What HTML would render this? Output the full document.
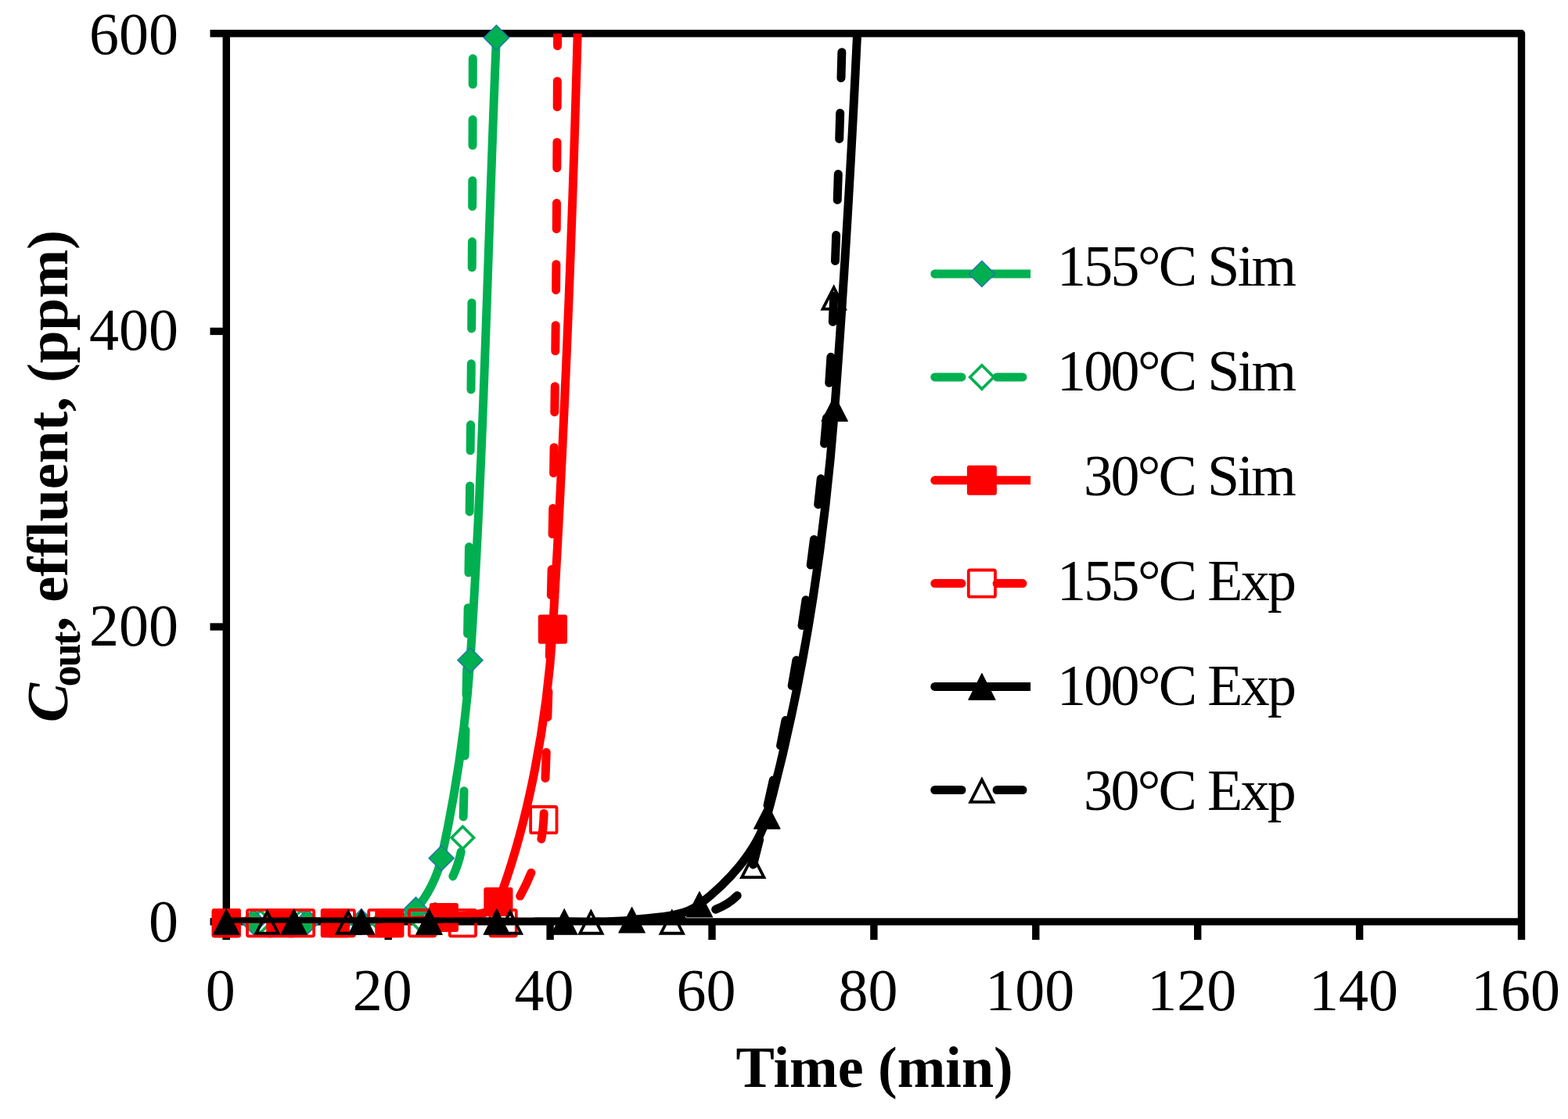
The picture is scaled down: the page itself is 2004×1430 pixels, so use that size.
<!DOCTYPE html><html><head><meta charset="utf-8"><title>Breakthrough curves</title><style>html,body{margin:0;padding:0;background:#fff;overflow:hidden}svg{display:block}text{font-family:"Liberation Serif","Times New Roman",serif;}</style></head><body>
<svg width="2004" height="1430" viewBox="0 0 2004 1430">
<rect width="2004" height="1430" fill="#fff"/>
<defs><clipPath id="pa"><rect x="289.30" y="42.80" width="1655.20" height="1136.80"/></clipPath></defs>
<g stroke="#000" stroke-width="9.4" fill="none" stroke-linejoin="round">
<path d="M268.50,42.80 H1944.50 V1177.90"/>
<path d="M289.30,42.80 V1201.00"/>
<path d="M268.50,1177.90 H1944.50"/>
<path d="M268.50,801.00 H289.30"/>
<path d="M268.50,423.40 H289.30"/>
<path d="M289.30,1177.90 V1201.00"/>
<path d="M496.20,1177.90 V1201.00"/>
<path d="M703.10,1177.90 V1201.00"/>
<path d="M910.00,1177.90 V1201.00"/>
<path d="M1116.90,1177.90 V1201.00"/>
<path d="M1323.80,1177.90 V1201.00"/>
<path d="M1530.70,1177.90 V1201.00"/>
<path d="M1737.60,1177.90 V1201.00"/>
<path d="M1944.50,1177.90 V1201.00"/>
</g>
<g font-size="76" fill="#000">
<text x="228" y="1202.9" text-anchor="end">0</text>
<text x="228" y="825.2" text-anchor="end">200</text>
<text x="228" y="446.6" text-anchor="end">400</text>
<text x="228" y="68.8" text-anchor="end">600</text>
<text x="281.8" y="1291" text-anchor="middle">0</text>
<text x="488.7" y="1291" text-anchor="middle">20</text>
<text x="695.6" y="1291" text-anchor="middle">40</text>
<text x="902.5" y="1291" text-anchor="middle">60</text>
<text x="1109.4" y="1291" text-anchor="middle">80</text>
<text x="1316.3" y="1291" text-anchor="middle">100</text>
<text x="1523.2" y="1291" text-anchor="middle">120</text>
<text x="1730.1" y="1291" text-anchor="middle">140</text>
<text x="1937.0" y="1291" text-anchor="middle">160</text>
</g>
<text x="1117.6" y="1388.7" font-size="74" font-weight="bold" text-anchor="middle">Time (min)</text>
<text transform="translate(86,923) rotate(-90)" font-size="75" font-weight="bold"><tspan font-style="italic">C</tspan><tspan font-size="54" dx="-4.4" dy="15.5" style="letter-spacing:-2.2px">out</tspan><tspan dy="-15.5" dx="2.2" style="letter-spacing:-0.25px">, effluent, (ppm)</tspan></text>
<path d="M289.30,1177.90 C300.79,1177.90 312.29,1177.90 323.78,1177.90 C335.28,1177.90 346.77,1177.90 358.27,1177.90 C369.76,1177.90 381.26,1177.90 392.75,1177.90 C404.24,1177.90 415.74,1177.90 427.23,1177.90 C438.73,1177.90 450.22,1177.90 461.72,1177.90 C473.21,1177.90 485.21,1180.32 496.20,1177.90 C508.47,1175.19 523.71,1171.81 531.50,1162.50 C546.37,1144.74 559.03,1120.42 564.20,1096.70 C582.19,1014.16 595.31,928.65 601.00,843.70 C618.71,579.18 623.27,313.43 634.40,48.30" fill="none" stroke="#00B050" stroke-width="11" stroke-linecap="round" stroke-linejoin="round" clip-path="url(#pa)"/>
<path d="M289.30,1177.90 C303.78,1177.90 318.27,1177.90 332.75,1177.90 C349.99,1177.90 367.23,1177.90 384.47,1177.90 C401.72,1177.90 418.96,1177.90 436.20,1177.90 C453.44,1177.90 470.68,1177.90 487.92,1177.90 C505.17,1177.90 529.21,1188.73 539.65,1177.90 C563.70,1152.93 590.23,1110.03 591.37,1070.50 C612.15,350.73 600.72,-376.50 605.40,-1100.00" fill="none" stroke="#00B050" stroke-width="11" stroke-linecap="round" stroke-linejoin="round" stroke-dasharray="33 45" stroke-dashoffset="-10.2" clip-path="url(#pa)"/>
<polygon points="289.30,1163.70 303.50,1177.90 289.30,1192.10 275.10,1177.90" fill="#fff" stroke="#00B050" stroke-width="3.6"/>
<polygon points="332.75,1163.70 346.95,1177.90 332.75,1192.10 318.55,1177.90" fill="#fff" stroke="#00B050" stroke-width="3.6"/>
<polygon points="384.47,1163.70 398.67,1177.90 384.47,1192.10 370.27,1177.90" fill="#fff" stroke="#00B050" stroke-width="3.6"/>
<polygon points="436.20,1163.70 450.40,1177.90 436.20,1192.10 422.00,1177.90" fill="#fff" stroke="#00B050" stroke-width="3.6"/>
<polygon points="487.92,1163.70 502.12,1177.90 487.92,1192.10 473.72,1177.90" fill="#fff" stroke="#00B050" stroke-width="3.6"/>
<polygon points="539.65,1163.70 553.85,1177.90 539.65,1192.10 525.45,1177.90" fill="#fff" stroke="#00B050" stroke-width="3.6"/>
<polygon points="591.37,1056.30 605.57,1070.50 591.37,1084.70 577.17,1070.50" fill="#fff" stroke="#00B050" stroke-width="3.6"/>
<polygon points="289.30,1161.90 305.30,1177.90 289.30,1193.90 273.30,1177.90" fill="#00B050" stroke="#2474AE" stroke-width="1.5" stroke-linejoin="miter"/>
<polygon points="323.78,1161.90 339.78,1177.90 323.78,1193.90 307.78,1177.90" fill="#00B050" stroke="#2474AE" stroke-width="1.5" stroke-linejoin="miter"/>
<polygon points="358.27,1161.90 374.27,1177.90 358.27,1193.90 342.27,1177.90" fill="#00B050" stroke="#2474AE" stroke-width="1.5" stroke-linejoin="miter"/>
<polygon points="392.75,1161.90 408.75,1177.90 392.75,1193.90 376.75,1177.90" fill="#00B050" stroke="#2474AE" stroke-width="1.5" stroke-linejoin="miter"/>
<polygon points="427.23,1161.90 443.23,1177.90 427.23,1193.90 411.23,1177.90" fill="#00B050" stroke="#2474AE" stroke-width="1.5" stroke-linejoin="miter"/>
<polygon points="461.72,1161.90 477.72,1177.90 461.72,1193.90 445.72,1177.90" fill="#00B050" stroke="#2474AE" stroke-width="1.5" stroke-linejoin="miter"/>
<polygon points="496.20,1161.90 512.20,1177.90 496.20,1193.90 480.20,1177.90" fill="#00B050" stroke="#2474AE" stroke-width="1.5" stroke-linejoin="miter"/>
<polygon points="531.50,1146.50 547.50,1162.50 531.50,1178.50 515.50,1162.50" fill="#00B050" stroke="#2474AE" stroke-width="1.5" stroke-linejoin="miter"/>
<polygon points="564.20,1080.70 580.20,1096.70 564.20,1112.70 548.20,1096.70" fill="#00B050" stroke="#2474AE" stroke-width="1.5" stroke-linejoin="miter"/>
<polygon points="601.00,827.70 617.00,843.70 601.00,859.70 585.00,843.70" fill="#00B050" stroke="#2474AE" stroke-width="1.5" stroke-linejoin="miter"/>
<polygon points="634.40,32.30 650.40,48.30 634.40,64.30 618.40,48.30" fill="#00B050" stroke="#2474AE" stroke-width="1.5" stroke-linejoin="miter"/>
<path d="M289.30,1177.90 C312.47,1177.90 335.65,1177.90 358.82,1177.90 C381.99,1177.90 405.16,1177.90 428.34,1177.90 C451.51,1177.90 474.72,1178.80 497.86,1177.90 C521.06,1177.00 544.63,1176.66 567.37,1172.50 C590.97,1168.19 629.05,1173.27 636.89,1152.50 C675.40,1050.47 699.26,922.08 706.41,804.10 C741.76,221.25 745.07,-365.30 764.40,-950.00" fill="none" stroke="#FF0000" stroke-width="11" stroke-linecap="round" stroke-linejoin="round" clip-path="url(#pa)"/>
<rect x="270.70" y="1161.00" width="37.2" height="37.2" rx="3" fill="#FF0000"/>
<rect x="340.22" y="1161.00" width="37.2" height="37.2" rx="3" fill="#FF0000"/>
<rect x="409.74" y="1161.00" width="37.2" height="37.2" rx="3" fill="#FF0000"/>
<rect x="479.26" y="1161.00" width="37.2" height="37.2" rx="3" fill="#FF0000"/>
<rect x="548.77" y="1153.90" width="37.2" height="37.2" rx="3" fill="#FF0000"/>
<rect x="618.29" y="1133.90" width="37.2" height="37.2" rx="3" fill="#FF0000"/>
<rect x="687.81" y="785.50" width="37.2" height="37.2" rx="3" fill="#FF0000"/>
<path d="M289.30,1177.90 C303.78,1177.90 318.27,1177.90 332.75,1177.90 C349.99,1177.90 367.23,1177.90 384.47,1177.90 C401.72,1177.90 418.96,1177.90 436.20,1177.90 C453.44,1177.90 470.68,1177.90 487.92,1177.90 C505.17,1177.90 522.41,1177.90 539.65,1177.90 C556.89,1177.90 574.13,1177.90 591.37,1177.90 C608.62,1177.90 633.80,1189.60 643.10,1177.90 C668.28,1146.20 692.84,1094.13 694.82,1047.70 C717.41,518.16 709.47,-17.43 716.80,-550.00" fill="none" stroke="#FF0000" stroke-width="11" stroke-linecap="round" stroke-linejoin="round" stroke-dasharray="33 45" stroke-dashoffset="-5.0" clip-path="url(#pa)"/>
<rect x="272.60" y="1162.90" width="33.4" height="33.4" rx="2" fill="none" stroke="#FF0000" stroke-width="3.8"/>
<rect x="316.05" y="1162.90" width="33.4" height="33.4" rx="2" fill="none" stroke="#FF0000" stroke-width="3.8"/>
<rect x="367.77" y="1162.90" width="33.4" height="33.4" rx="2" fill="none" stroke="#FF0000" stroke-width="3.8"/>
<rect x="419.50" y="1162.90" width="33.4" height="33.4" rx="2" fill="none" stroke="#FF0000" stroke-width="3.8"/>
<rect x="471.22" y="1162.90" width="33.4" height="33.4" rx="2" fill="none" stroke="#FF0000" stroke-width="3.8"/>
<rect x="522.95" y="1162.90" width="33.4" height="33.4" rx="2" fill="none" stroke="#FF0000" stroke-width="3.8"/>
<rect x="574.67" y="1162.90" width="33.4" height="33.4" rx="2" fill="none" stroke="#FF0000" stroke-width="3.8"/>
<rect x="626.40" y="1162.90" width="33.4" height="33.4" rx="2" fill="none" stroke="#FF0000" stroke-width="3.8"/>
<rect x="678.12" y="1031.00" width="33.4" height="33.4" rx="2" fill="none" stroke="#FF0000" stroke-width="3.8"/>
<path d="M289.30,1177.90 C318.09,1177.90 346.89,1177.90 375.68,1177.90 C404.47,1177.90 433.27,1177.90 462.06,1177.90 C490.86,1177.90 519.65,1177.90 548.44,1177.90 C577.24,1177.90 606.03,1177.90 634.82,1177.90 C663.62,1177.90 692.42,1178.28 721.20,1177.90 C750.00,1177.52 779.16,1179.27 807.58,1175.63 C836.74,1171.89 871.85,1172.77 893.97,1155.77 C929.44,1128.49 968.13,1087.63 980.35,1042.80 C1025.71,876.38 1053.32,697.22 1066.73,522.00 C1105.43,16.29 1113.38,-492.67 1136.70,-1000.00" fill="none" stroke="#000000" stroke-width="11" stroke-linecap="round" stroke-linejoin="round" clip-path="url(#pa)"/>
<polygon points="289.30,1161.75 305.95,1194.15 272.65,1194.15" fill="#000" stroke="#000" stroke-width="1.2" stroke-linejoin="round"/>
<polygon points="375.68,1161.75 392.33,1194.15 359.03,1194.15" fill="#000" stroke="#000" stroke-width="1.2" stroke-linejoin="round"/>
<polygon points="462.06,1161.75 478.71,1194.15 445.41,1194.15" fill="#000" stroke="#000" stroke-width="1.2" stroke-linejoin="round"/>
<polygon points="548.44,1161.75 565.09,1194.15 531.79,1194.15" fill="#000" stroke="#000" stroke-width="1.2" stroke-linejoin="round"/>
<polygon points="634.82,1161.75 651.47,1194.15 618.17,1194.15" fill="#000" stroke="#000" stroke-width="1.2" stroke-linejoin="round"/>
<polygon points="721.20,1161.75 737.85,1194.15 704.55,1194.15" fill="#000" stroke="#000" stroke-width="1.2" stroke-linejoin="round"/>
<polygon points="807.58,1159.48 824.23,1191.88 790.93,1191.88" fill="#000" stroke="#000" stroke-width="1.2" stroke-linejoin="round"/>
<polygon points="893.97,1139.62 910.62,1172.02 877.32,1172.02" fill="#000" stroke="#000" stroke-width="1.2" stroke-linejoin="round"/>
<polygon points="980.35,1026.65 997.00,1059.05 963.70,1059.05" fill="#000" stroke="#000" stroke-width="1.2" stroke-linejoin="round"/>
<polygon points="1066.73,505.85 1083.38,538.25 1050.08,538.25" fill="#000" stroke="#000" stroke-width="1.2" stroke-linejoin="round"/>
<path d="M341.54,1177.90 C376.03,1177.90 410.51,1177.90 444.99,1177.90 C479.48,1177.90 513.96,1177.90 548.44,1177.90 C582.93,1177.90 617.41,1177.90 651.89,1177.90 C686.38,1177.90 720.86,1177.90 755.34,1177.90 C789.83,1177.90 827.68,1188.68 858.79,1177.90 C896.65,1164.78 946.08,1168.53 962.24,1106.20 C1021.11,879.19 1056.14,623.96 1065.69,380.00 C1099.29,-478.11 1083.03,-1340.00 1091.70,-2200.00" fill="none" stroke="#000000" stroke-width="11" stroke-linecap="round" stroke-linejoin="round" stroke-dasharray="33 45" stroke-dashoffset="-30.0" clip-path="url(#pa)"/>
<polygon points="341.54,1165.30 355.68,1192.75 327.41,1192.75" fill="none" stroke="#000" stroke-width="3.8" stroke-linejoin="miter" stroke-miterlimit="10"/>
<polygon points="444.99,1165.30 459.13,1192.75 430.86,1192.75" fill="none" stroke="#000" stroke-width="3.8" stroke-linejoin="miter" stroke-miterlimit="10"/>
<polygon points="548.44,1165.30 562.58,1192.75 534.31,1192.75" fill="none" stroke="#000" stroke-width="3.8" stroke-linejoin="miter" stroke-miterlimit="10"/>
<polygon points="651.89,1165.30 666.03,1192.75 637.76,1192.75" fill="none" stroke="#000" stroke-width="3.8" stroke-linejoin="miter" stroke-miterlimit="10"/>
<polygon points="755.34,1165.30 769.48,1192.75 741.21,1192.75" fill="none" stroke="#000" stroke-width="3.8" stroke-linejoin="miter" stroke-miterlimit="10"/>
<polygon points="858.79,1165.30 872.93,1192.75 844.66,1192.75" fill="none" stroke="#000" stroke-width="3.8" stroke-linejoin="miter" stroke-miterlimit="10"/>
<polygon points="962.24,1093.60 976.38,1121.05 948.11,1121.05" fill="none" stroke="#000" stroke-width="3.8" stroke-linejoin="miter" stroke-miterlimit="10"/>
<polygon points="1065.69,367.40 1079.83,394.85 1051.56,394.85" fill="none" stroke="#000" stroke-width="3.8" stroke-linejoin="miter" stroke-miterlimit="10"/>
<path d="M1194.8,350.0 H1317.1" stroke="#00B050" stroke-width="11"/>
<circle cx="1194.8" cy="350.0" r="5.5" fill="#00B050"/>
<polygon points="1254.90,333.50 1271.40,350.00 1254.90,366.50 1238.40,350.00" fill="#00B050" stroke="#2474AE" stroke-width="1.5" stroke-linejoin="miter"/>
<text x="1351.0" y="365.3" font-size="74" style="letter-spacing:-2.7px">155°C Sim</text>
<path d="M1194.8,481.9 H1229 M1274.1,481.9 H1307" stroke="#00B050" stroke-width="11" stroke-linecap="round"/>
<polygon points="1254.90,466.70 1270.10,481.90 1254.90,497.10 1239.70,481.90" fill="#fff" stroke="#00B050" stroke-width="3.6"/>
<text x="1351.0" y="499.2" font-size="74" style="letter-spacing:-2.7px">100°C Sim</text>
<path d="M1194.8,613.8 H1317.1" stroke="#FF0000" stroke-width="11"/>
<circle cx="1194.8" cy="613.8" r="5.5" fill="#FF0000"/>
<rect x="1235.90" y="594.80" width="38.0" height="38.0" rx="3" fill="#FF0000"/>
<text x="1385.1" y="632.6" font-size="74" style="letter-spacing:-2.7px">30°C Sim</text>
<path d="M1194.8,745.6 H1229 M1274.1,745.6 H1307" stroke="#FF0000" stroke-width="11" stroke-linecap="round"/>
<rect x="1237.80" y="728.50" width="34.2" height="34.2" rx="2" fill="none" stroke="#FF0000" stroke-width="3.8"/>
<text x="1351.0" y="767.3" font-size="74" style="letter-spacing:-2.7px">155°C Exp</text>
<path d="M1194.8,877.4 H1317.1" stroke="#000000" stroke-width="11"/>
<circle cx="1194.8" cy="877.4" r="5.5" fill="#000000"/>
<polygon points="1254.90,860.65 1271.95,894.25 1237.85,894.25" fill="#000" stroke="#000" stroke-width="1.2" stroke-linejoin="round"/>
<text x="1351.0" y="901.1" font-size="74" style="letter-spacing:-2.7px">100°C Exp</text>
<path d="M1194.8,1009.5 H1229 M1274.1,1009.5 H1307" stroke="#000000" stroke-width="11" stroke-linecap="round"/>
<polygon points="1254.90,996.34 1269.45,1024.95 1240.35,1024.95" fill="none" stroke="#000" stroke-width="3.8" stroke-linejoin="miter" stroke-miterlimit="10"/>
<text x="1385.1" y="1034.8" font-size="74" style="letter-spacing:-2.7px">30°C Exp</text>
</svg></body></html>
